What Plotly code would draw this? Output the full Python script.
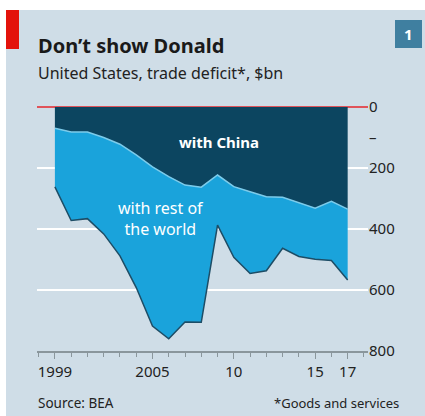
import plotly.graph_objects as go

years = list(range(1999, 2018))
china = [70, 82, 82, 100, 122, 157, 196, 228, 256, 263, 223, 261, 278, 294, 296, 314, 332, 309, 335]
total = [262, 372, 366, 416, 488, 592, 718, 760, 705, 706, 387, 493, 546, 537, 463, 490, 499, 503, 567]

x_tickvals = [1999, 2005, 2010, 2015, 2017]
x_ticktext = ["1999", "2005", "10", "15", "17"]
y_tickvals = [0, 100, 200, 400, 600, 800]
y_ticktext = ["0", "–", "200", "400", "600", "800"]
grid_vals = [200, 400, 600]

PANEL = "#cfdde7"
DARK = "#0c4560"
LIGHT = "#1aa3db"
FONT = "Noto Sans"

W, H = 425, 416
L, R, T, B = 37, 57, 107, 65
pw, ph = W - L - R, H - T - B

def px(xp):
    return (xp - L) / pw

def py(yp):
    return 1 - (yp - T) / ph

fig = go.Figure()
fig.add_trace(go.Scatter(x=years, y=china, mode="lines", fill="tozeroy",
                         fillcolor=DARK, line=dict(color="#7ccbea", width=1.5),
                         hoverinfo="skip", showlegend=False))
fig.add_trace(go.Scatter(x=years, y=total, mode="lines", fill="tonexty",
                         fillcolor=LIGHT, line=dict(color="#1d4d66", width=1.5),
                         hoverinfo="skip", showlegend=False))

fig.update_layout(
    width=W, height=H,
    margin=dict(l=L, r=R, t=T, b=B, pad=0),
    paper_bgcolor="white",
    plot_bgcolor="rgba(0,0,0,0)",
    font=dict(family=FONT, color="#222222", size=15),
    xaxis=dict(range=[1997.9, 2018.25], tickvals=x_tickvals, ticktext=x_ticktext,
               ticks="outside", ticklen=6, tickcolor="#8a969c", tickwidth=1,
               showline=True, linecolor="#8a969c", linewidth=1.5,
               showgrid=False, zeroline=False,
               minor=dict(dtick=1, tick0=1999, ticks="outside", ticklen=4,
                          tickcolor="#8a969c", showgrid=False),
               tickfont=dict(size=15, color="#222222")),
    yaxis=dict(range=[800, 0], side="right", tickvals=y_tickvals, ticktext=y_ticktext,
               showgrid=False, zeroline=True, zerolinecolor="#e0535a", zerolinewidth=2,
               ticks="", showline=False,
               minor=dict(tickvals=grid_vals, showgrid=True, gridcolor="white",
                          gridwidth=2, ticks=""),
               tickfont=dict(size=15, color="#222222")),
    shapes=[
        dict(type="rect", xref="paper", yref="paper", x0=px(6), x1=px(W + 5),
             y0=py(10), y1=py(H + 5), fillcolor=PANEL, line=dict(width=0), layer="below"),
        dict(type="rect", xref="paper", yref="paper", x0=px(6), x1=px(19),
             y0=py(10), y1=py(49), fillcolor="#e3120b", line=dict(width=0), layer="above"),
        dict(type="rect", xref="paper", yref="paper", x0=px(395), x1=px(422),
             y0=py(20), y1=py(48), fillcolor="#3f7fa0", line=dict(width=0), layer="above"),
    ],
    annotations=[
        dict(text="<b>Don’t show Donald</b>", xref="paper", yref="paper",
             x=px(36), y=py(45), xanchor="left", yanchor="middle", showarrow=False,
             font=dict(size=20, color="#1a1a1a")),
        dict(text="United States, trade deficit*, $bn", xref="paper", yref="paper",
             x=px(36), y=py(73), xanchor="left", yanchor="middle", showarrow=False,
             font=dict(size=16, color="#222222")),
        dict(text="<b>1</b>", xref="paper", yref="paper",
             x=px(408.5), y=py(34), xanchor="center", yanchor="middle", showarrow=False,
             font=dict(size=15, color="white")),
        dict(text="<b>with China</b>", xref="x", yref="y", x=2009.1, y=114,
             xanchor="center", yanchor="middle", showarrow=False,
             font=dict(size=15, color="white")),
        dict(text="with rest of<br>the world", xref="x", yref="y", x=2005.5, y=367,
             xanchor="center", yanchor="middle", showarrow=False,
             font=dict(size=16, color="white")),
        dict(text="Source: BEA", xref="paper", yref="paper",
             x=px(36), y=py(403), xanchor="left", yanchor="middle", showarrow=False,
             font=dict(size=13.5, color="#222222")),
        dict(text="*Goods and services", xref="paper", yref="paper",
             x=px(401), y=py(403), xanchor="right", yanchor="middle", showarrow=False,
             font=dict(size=13, color="#222222")),
    ],
)

fig.write_html("out.html")
